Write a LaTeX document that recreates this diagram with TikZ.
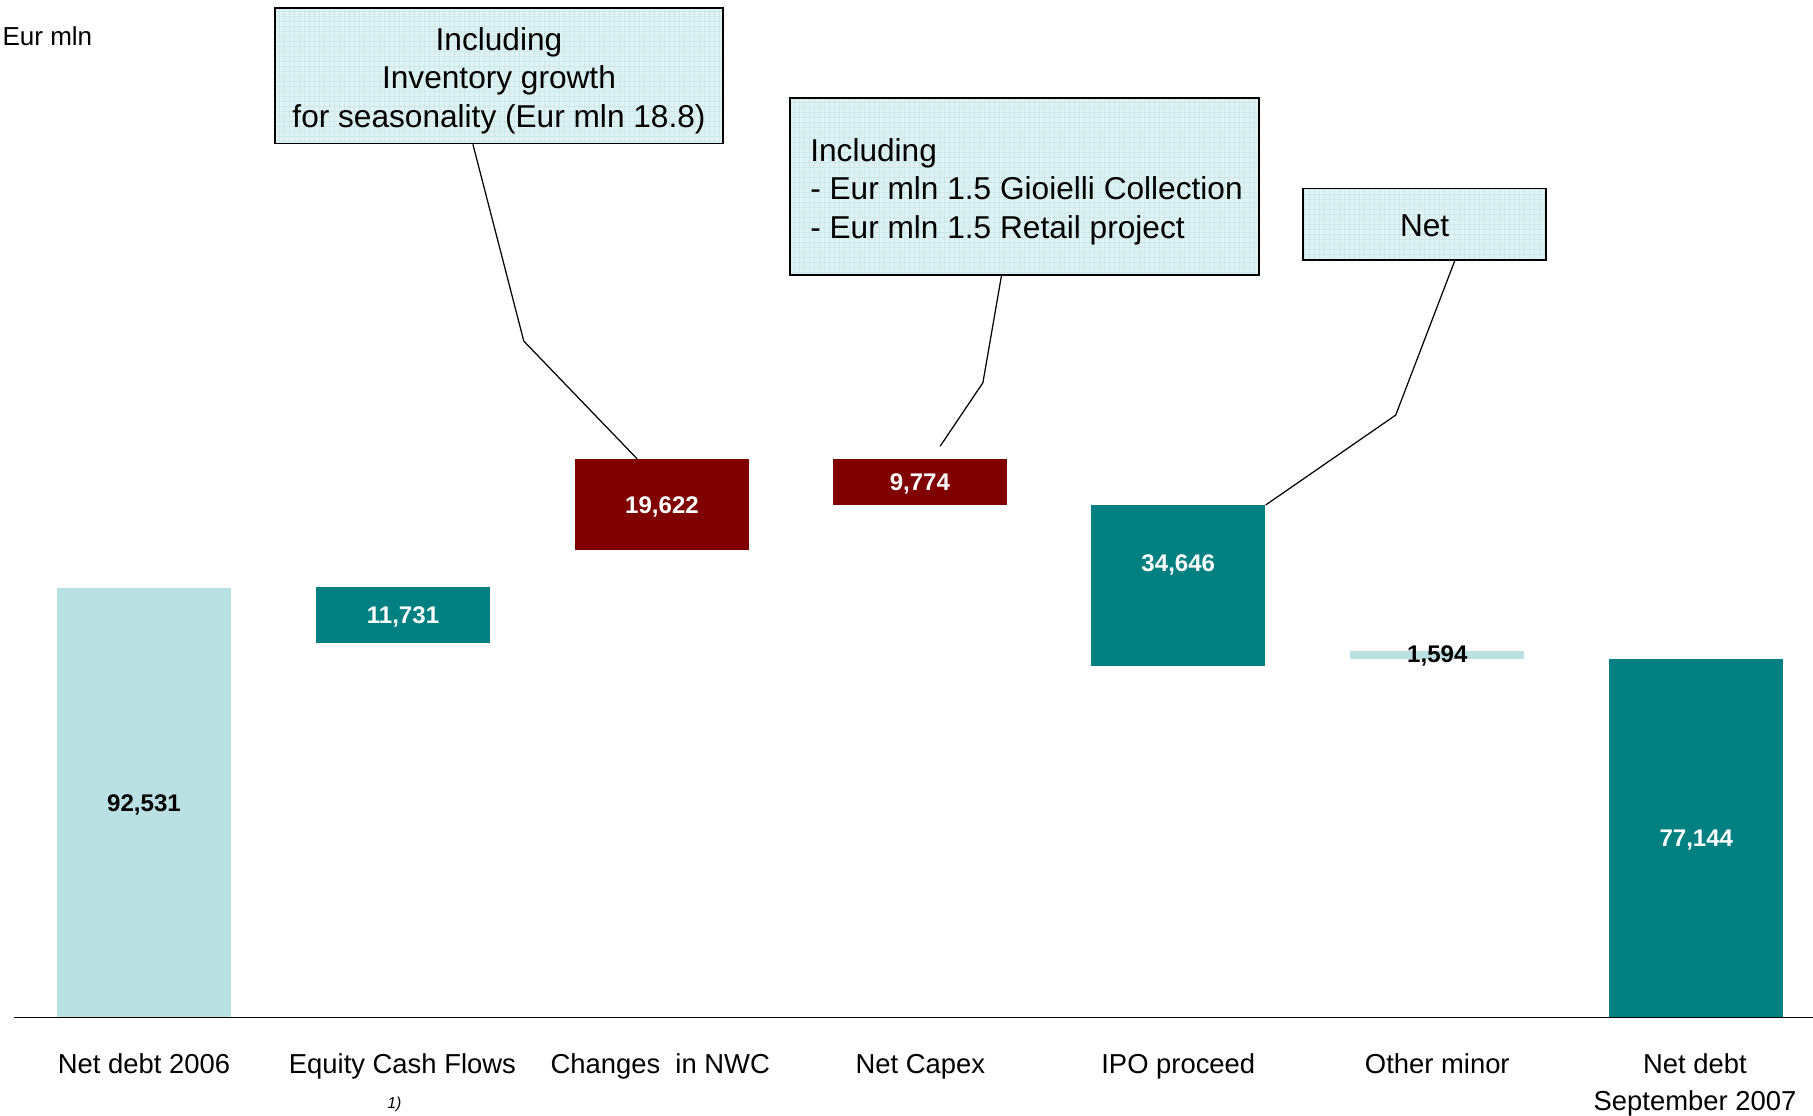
\documentclass[tikz,border=0pt]{standalone}
\usepackage{fontspec}
\setmainfont{Liberation Sans}
\definecolor{barlight}{RGB}{185,224,227}
\definecolor{barteal}{RGB}{0,128,128}
\definecolor{barred}{RGB}{128,0,0}
\definecolor{notefill}{RGB}{223,242,244}
\definecolor{notegrid}{RGB}{204,232,235}
\tikzset{
	bar/.style={rectangle, inner sep=0pt, minimum width=3.48cm, font=\fontsize{13.7}{16}\selectfont\bfseries},
	barval/.style={inner sep=0pt, font=\fontsize{13.7}{16}\selectfont\bfseries},
	note/.style={draw=black, line width=1pt, fill=notefill, inner sep=0pt,
		path picture={\draw[notegrid, line width=0.25pt, step=0.1cm] (path picture bounding box.south west) grid (path picture bounding box.north east);}},
	notetext/.style={inner sep=0pt, font=\fontsize{18}{21.8}\selectfont},
	cat/.style={anchor=base, align=center, font=\fontsize{15.6}{21}\selectfont},
	leader/.style={line width=0.7pt},
}

\begin{document}
\begin{tikzpicture}[x=0.02cm, y=-0.02cm]
			\useasboundingbox (0,0) rectangle (1813,1116);
			\node[anchor=west, inner sep=0pt, font=\fontsize{14.8}{17}\selectfont] (unit) at (2.3,35.8) {Eur mln};
			
			\node[bar, fill=barlight, minimum height=8.60cm] (debt06) at (144,802.5) {};
			\node[barval] (debt06val) at (144,805) {92,531};
			\node[bar, fill=barteal, minimum height=1.11cm] (ecf) at (403,615.2) {};
			\node[barval, text=white] (ecfval) at (403,616.5) {11,731};
			\node[bar, fill=barred, minimum height=1.826cm] (nwc) at (662,504.8) {};
			\node[barval, text=white] (nwcval) at (662,506.5) {19,622};
			\node[bar, fill=barred, minimum height=0.924cm] (capex) at (919.9,482.2) {};
			\node[barval, text=white] (capexval) at (919.9,484) {9,774};
			\node[bar, fill=barteal, minimum height=3.214cm] (ipo) at (1178.3,585.7) {};
			\node[barval, text=white] (ipoval) at (1178.3,564.5) {34,646};
			\node[bar, fill=barlight, minimum height=0.16cm] (minor) at (1437.3,655) {};
			\node[barval] (minorval) at (1437.3,656) {1,594};
			\node[bar, fill=barteal, minimum height=7.168cm] (debt07) at (1696.3,838.3) {};
			\node[barval, text=white] (debt07val) at (1696.3,840.5) {77,144};
			
			\coordinate (axl) at (13.9,1017.5);
			\coordinate (axr) at (1813,1017.5);
			\draw[line width=0.8pt] (axl) -- (axr);
			
			\node[cat] (lbl1) at (144,1073) {Net debt 2006};
			\node[cat] (lbl2) at (402.4,1073) {Equity Cash Flows};
			\node[anchor=base, font=\fontsize{9}{11}\selectfont\itshape] (foot) at (394.3,1108) {1)};
			\node[cat] (lbl3) at (660.2,1073) {Changes\ \ in NWC};
			\node[cat] (lbl4) at (920.4,1073) {Net Capex};
			\node[cat] (lbl5) at (1178.3,1073) {IPO proceed};
			\node[cat] (lbl6) at (1437.3,1073) {Other minor};
			\node[cat] (lbl7) at (1695,1110) {Net debt\\September 2007};
			
			\node[note, minimum width=8.95cm, minimum height=2.706cm] (box1) at (499,75.8) {};
			\node[notetext, align=center] (box1txt) at ([yshift=-0.1cm]box1.center) {Including\\Inventory growth\\for seasonality (Eur mln 18.8)};
			\node[note, minimum width=9.388cm, minimum height=3.538cm] (box2) at (1024.5,186.75) {};
			\node[notetext, align=left] (box2txt) at ([xshift=0.04cm, yshift=-0.1cm]box2.center) {Including\\- Eur mln 1.5 Gioielli Collection\\- Eur mln 1.5 Retail project};
			\node[note, minimum width=4.858cm, minimum height=1.434cm] (box3) at (1424.6,224.4) {};
			\node[notetext] (box3txt) at ([yshift=-0.02cm]box3.center) {Net};
			
			\coordinate (k1) at (472.9,0);
			\coordinate (b1) at (523.8,341.1);
			\coordinate (e1) at (637.1,0);
			\draw[leader] (box1.south -| k1) -- (b1) -- (nwc.north -| e1);
			\coordinate (k2) at (1001.4,0);
			\coordinate (b2) at (982.9,382.7);
			\coordinate (e2) at (940.1,446.3);
			\draw[leader] (box2.south -| k2) -- (b2) -- (e2);
			\coordinate (k3) at (1454.6,0);
			\coordinate (b3) at (1395.7,415.1);
			\draw[leader] (box3.south -| k3) -- (b3) -- (ipo.north east);
		\end{tikzpicture}
\end{document}
